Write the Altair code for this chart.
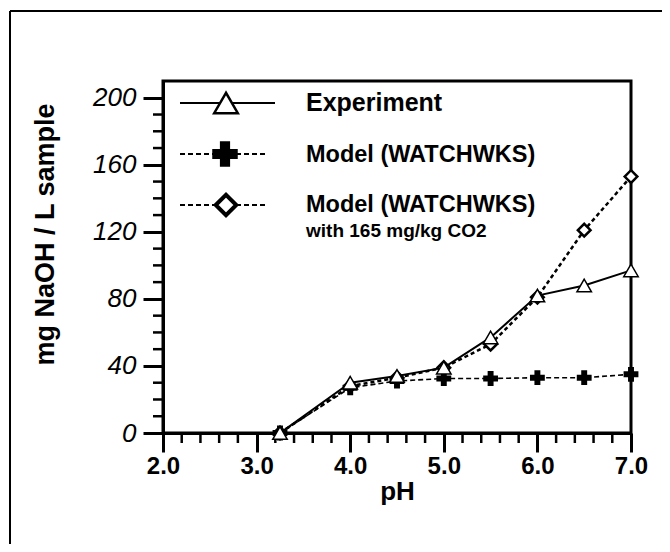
import altair as alt
import pandas as pd

ph = [3.25, 4.0, 4.5, 5.0, 5.5, 6.0, 6.5, 7.0]
experiment = [0, 30, 34, 39, 57, 82, 88, 97]
model = [0, 27, 31, 32.5, 32.5, 33, 33, 35]
model_co2 = [0, 28, 33, 39, 53, 81, 121, 153]

x_major = [2.0, 3.0, 4.0, 5.0, 6.0, 7.0]
x_minor = [2.2, 2.4, 2.6, 2.8, 3.2, 3.4, 3.6, 3.8, 4.2, 4.4, 4.6, 4.8,
           5.2, 5.4, 5.6, 5.8, 6.2, 6.4, 6.6, 6.8]
y_major = [0, 40, 80, 120, 160, 200]
y_minor = [10, 20, 30, 50, 60, 70, 90, 100, 110, 130, 140, 150, 170, 180, 190]

legend_labels = ["Experiment", "Model (WATCHWKS)", "Model (WATCHWKS)", "with 165 mg/kg CO2"]

W, H = 468, 352
FONT = "Liberation Sans"

df = pd.DataFrame({"ph": ph, "exp": experiment, "model": model, "co2": model_co2})
xs = alt.Scale(domain=[2.0, 7.0], nice=False, zero=False)
ys = alt.Scale(domain=[0, 210], nice=False)

x_axis = alt.Axis(values=x_major, format=".1f", title="pH", tickSize=19, tickWidth=3,
                  domainWidth=3, domainColor="black", tickColor="black", labelPadding=2,
                  labelFlush=False, labelOverlap=False,
                  labelFont=FONT, labelFontSize=24, labelFontWeight="bold", labelColor="black",
                  titleFont=FONT, titleFontSize=26, titleFontWeight="bold", titleColor="black",
                  titlePadding=0, grid=False)
y_axis = alt.Axis(values=y_major, format="d", title="mg NaOH / L sample", tickSize=20, tickWidth=3,
                  domainWidth=3, domainColor="black", tickColor="black", labelPadding=7,
                  labelFlush=False, labelOverlap=False,
                  labelFont=FONT, labelFontSize=26, labelFontStyle="italic", labelColor="black",
                  titleFont=FONT, titleFontSize=27, titleFontWeight="bold", titleColor="black",
                  titleX=-118, titleY=153, titleAngle=270, titleAlign="center",
                  titleBaseline="middle", grid=False)


def X(f):
    return alt.X(f, scale=xs, axis=x_axis, title="pH")


def Y(f):
    return alt.Y(f, scale=ys, axis=y_axis, title="mg NaOH / L sample")


base = alt.Chart(df)

co2_line = base.mark_line(color="black", strokeWidth=2.5, strokeDash=[4, 3]).encode(
    x=X("ph:Q"), y=Y("co2:Q"))
co2_pts = base.mark_point(shape="diamond", size=160, filled=True, fill="white",
                          stroke="black", strokeWidth=2.5, opacity=1).encode(
    x=X("ph:Q"), y=Y("co2:Q"))

model_line = base.mark_line(color="black", strokeWidth=1.6, strokeDash=[5, 3]).encode(
    x=X("ph:Q"), y=Y("model:Q"))
model_pts = base.mark_point(shape="cross", size=220, filled=True, color="black", opacity=1).encode(
    x=X("ph:Q"), y=Y("model:Q"))

exp_line = base.mark_line(color="black", strokeWidth=2).encode(
    x=X("ph:Q"), y=Y("exp:Q"))
exp_pts = base.mark_point(shape="triangle-up", size=210, filled=True, fill="white",
                          stroke="black", strokeWidth=1.5, opacity=1).encode(
    x=X("ph:Q"), y=Y("exp:Q"))

xminor = alt.Chart(pd.DataFrame({"v": x_minor})).mark_rule(color="black", strokeWidth=2.5).encode(
    x=X("v:Q"), y=alt.value(H), y2=alt.value(H + 10))
yminor = alt.Chart(pd.DataFrame({"v": y_minor})).mark_rule(color="black", strokeWidth=2.5).encode(
    y=Y("v:Q"), x=alt.value(-10), x2=alt.value(0))

# outer frame (top and left edges)
frame_top = alt.Chart(df).mark_rule(color="black", strokeWidth=2).encode(
    x=alt.value(-153), x2=alt.value(510), y=alt.value(-70))
frame_left = alt.Chart(df).mark_rule(color="black", strokeWidth=2).encode(
    x=alt.value(-153), y=alt.value(-70), y2=alt.value(470))

# legend
leg = alt.Chart(pd.DataFrame({"k": [0]}))
l1 = leg.mark_rule(color="black", strokeWidth=2).encode(x=alt.value(17), x2=alt.value(112), y=alt.value(22))
p1 = leg.mark_point(shape="triangle-up", size=560, filled=True, fill="white", stroke="black",
                    strokeWidth=2.5, opacity=1).encode(x=alt.value(63), y=alt.value(22))
l2 = leg.mark_rule(color="black", strokeWidth=2, strokeDash=[5, 3]).encode(
    x=alt.value(17), x2=alt.value(105), y=alt.value(73))
p2 = leg.mark_point(shape="cross", size=650, filled=True, color="black", opacity=1).encode(
    x=alt.value(62), y=alt.value(73))
l3 = leg.mark_rule(color="black", strokeWidth=2, strokeDash=[5, 3]).encode(
    x=alt.value(17), x2=alt.value(105), y=alt.value(124))
p3 = leg.mark_point(shape="diamond", size=420, filled=True, fill="white", stroke="black",
                    strokeWidth=4, opacity=1).encode(x=alt.value(63), y=alt.value(124))

t_rows = [(legend_labels[0], 22, 25), (legend_labels[1], 74, 23.5),
          (legend_labels[2], 124, 23.5), (legend_labels[3], 150, 19)]
texts = [leg.mark_text(align="left", baseline="middle", font=FONT, fontSize=fs,
                       fontWeight="bold", color="black").encode(
    x=alt.value(143), y=alt.value(yy), text=alt.value(txt)) for txt, yy, fs in t_rows]

chart = alt.layer(
    co2_line, model_line, exp_line, xminor, yminor, co2_pts, model_pts, exp_pts,
    frame_top, frame_left, l1, l2, l3, p1, p2, p3, *texts
).properties(
    width=W, height=H,
    autosize=alt.AutoSizeParams(type="none"),
    padding={"left": 155, "top": 73, "right": 31, "bottom": 111},
    background="white",
).configure_view(stroke="black", strokeWidth=3)

chart.save("out.html", embed_options={"renderer": "svg", "actions": False})
